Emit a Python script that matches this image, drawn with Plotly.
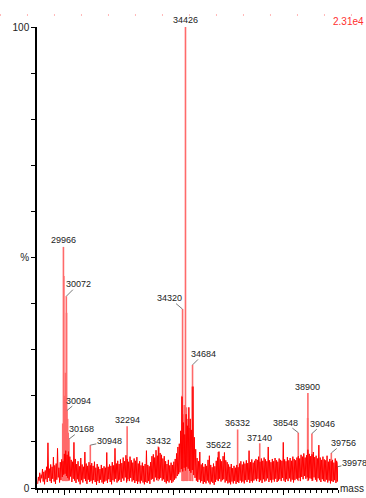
import plotly.graph_objects as go

# Baseline noise of the deconvoluted spectrum, sampled every 50 Da from 29025 Da.
# Each sample has a trough (noise_lo) and a crest (noise_hi), in % of base peak.
noise_start = 29025
noise_step = 50
noise_hi = [
    2.4, 3.3, 2.9, 4.1, 3.5, 3.8, 4.6, 9.8, 4.2, 5.1,
    4.6, 6.7, 4.9, 5.3, 8.6, 4.4, 5.6, 6.2, 5.8, 7.4,
    8.1, 7.2, 7.9, 6.8, 6.1, 5.7, 9.9, 6.3, 5.2, 5.8,
    4.7, 6.5, 5.1, 4.6, 7.8, 5.3, 4.8, 5.6, 4.9, 5.4,
    4.8, 5.7, 4.4, 5.2, 4.6, 4.1, 5.0, 4.3, 4.7, 4.4,
    7.7, 4.6, 5.1, 4.8, 5.6, 4.9, 8.6, 5.3, 5.9, 5.2,
    6.2, 5.4, 6.6, 5.8, 7.1, 6.3, 5.7, 6.8, 6.0, 5.5,
    6.4, 5.9, 6.7, 5.3, 5.8, 4.9, 5.5, 4.8, 5.2, 8.1,
    5.0, 4.7, 5.6, 6.9, 7.3, 6.6, 8.2, 7.0, 8.8, 7.6,
    7.2, 6.4, 6.9, 5.8, 5.2, 6.1, 4.9, 5.5, 5.0, 5.7,
    6.3, 7.5, 8.9, 9.6, 12.4, 19.8, 14.2, 11.6, 16.0, 13.5,
    17.5, 15.0, 12.6, 22.0, 11.0, 8.4, 6.5, 5.8, 7.8, 5.1,
    5.4, 4.6, 5.2, 4.8, 6.1, 7.0, 5.0, 4.5, 5.3, 4.7,
    5.9, 6.6, 7.9, 6.2, 5.8, 6.9, 7.7, 6.0, 5.6, 5.1,
    4.6, 5.2, 4.3, 4.8, 4.4, 5.0, 4.5, 5.3, 5.8, 5.1,
    5.7, 5.3, 6.0, 5.4, 8.1, 5.6, 6.2, 5.5, 5.9, 6.3,
    6.1, 6.8, 5.7, 6.4, 5.9, 6.6, 6.2, 5.8, 8.9, 6.0,
    5.6, 6.3, 5.8, 6.5, 6.0, 5.7, 6.4, 6.1, 5.9, 9.9,
    6.2, 5.8, 6.7, 6.0, 6.5, 5.9, 6.8, 6.3, 6.0, 6.6,
    6.9, 6.4, 7.2, 6.8, 7.5, 6.6, 7.1, 8.3, 7.4, 6.9,
    7.3, 7.8, 6.7, 7.0, 6.4, 9.3, 6.6, 6.1, 6.8, 6.2,
    6.0, 7.0, 5.7, 6.3, 5.8, 6.1, 5.5, 6.4, 5.9, 5.6,
]
noise_lo = [
    0.9, 1.6, 1.2, 2.1, 1.4, 0.8, 1.9, 1.3, 2.2, 1.5,
    1.1, 2.0, 1.4, 0.9, 1.8, 2.3, 1.2, 1.7, 2.4, 2.9,
    3.1, 2.6, 2.2, 1.8, 2.5, 1.3, 2.0, 1.6, 1.1, 1.9,
    1.4, 0.8, 1.7, 1.2, 2.0, 1.5, 0.9, 1.8, 1.3, 1.6,
    1.0, 1.7, 1.3, 0.7, 1.5, 1.1, 1.8, 1.2, 0.9, 1.4,
    1.6, 1.1, 1.9, 1.3, 0.8, 1.7, 1.4, 2.0, 1.2, 1.5,
    1.8, 1.3, 2.1, 1.6, 2.3, 1.2, 1.9, 1.5, 2.2, 1.4,
    1.7, 1.1, 1.5, 0.9, 1.4, 1.0, 1.6, 1.2, 0.8, 1.3,
    1.1, 1.5, 0.9, 1.8, 2.0, 1.4, 2.3, 1.7, 2.1, 1.9,
    2.2, 1.6, 1.9, 1.3, 1.0, 1.5, 1.2, 1.7, 1.1, 1.4,
    1.8, 2.1, 2.6, 3.0, 3.4, 4.1, 3.6, 4.4, 3.8, 4.6,
    4.2, 3.7, 3.3, 3.9, 2.8, 2.2, 1.6, 1.3, 1.8, 1.2,
    1.5, 0.9, 1.3, 1.0, 1.6, 1.2, 0.8, 1.4, 1.1, 0.7,
    1.3, 1.8, 1.5, 2.0, 1.4, 1.7, 1.9, 1.2, 1.6, 1.0,
    1.2, 0.8, 1.4, 1.0, 1.5, 0.9, 1.3, 1.1, 1.6, 1.2,
    1.4, 1.0, 1.7, 1.3, 1.8, 1.1, 1.5, 1.2, 1.6, 1.9,
    1.5, 2.0, 1.3, 1.7, 1.1, 1.9, 1.4, 1.6, 2.1, 1.3,
    1.7, 1.2, 1.8, 1.4, 2.0, 1.3, 1.6, 1.9, 1.5, 2.2,
    1.6, 1.3, 1.9, 1.5, 2.1, 1.4, 1.8, 1.2, 1.7, 2.0,
    1.8, 2.2, 1.5, 2.4, 1.9, 2.6, 2.0, 2.3, 1.7, 2.1,
    2.0, 1.6, 2.3, 1.8, 1.4, 2.1, 1.7, 1.3, 1.9, 1.5,
    1.4, 1.8, 1.2, 1.6, 1.0, 1.5, 1.3, 1.7, 1.1, 1.4,
]

# Labelled peaks: mass (Da), intensity (%)
peak_mass = [29966, 30072, 30094, 30168, 30948, 32294, 33432, 34320, 34426,
             34684, 35622, 36332, 37140, 38548, 38900, 39046, 39756, 39978]
peak_pct = [52.3, 41.6, 16.8, 10.6, 9.3, 13.4, 9.0, 38.8, 100.0,
            26.7, 7.8, 12.7, 9.7, 12.0, 20.6, 11.8, 7.6, 4.6]
# label offset from the peak top (px) and whether a leader line is drawn
label_dx = [0, 12, 12, 13, 19, 0, 0, -13, 0, 11, 0, 0, 0, -13, 0, 11, 12, 17]
label_dy = [-7, -12, -10, -10, -4, -6, -6, -11, -7, -11, -7, -6, -5, -10, -6, -10, -10, -4]
label_leader = [False, True, True, True, True, False, False, True, False,
                True, False, False, False, True, False, True, True, True]

# Unlabelled sticks inside the main clusters
extra_mass = [29940, 29980, 30010, 30040, 30080, 30120, 30140,
              34300, 34350, 34380, 34460, 34500, 34560, 34610, 34672, 38890]
extra_pct = [14.0, 46.0, 20.0, 25.0, 38.0, 15.0, 12.0,
             20.0, 16.0, 18.0, 17.5, 15.0, 13.0, 12.6, 22.0, 15.2]

x_tick_vals = [30000, 32000, 34000, 36000, 38000]
x_tick_text = ["30000", "32000", "34000", "36000", "38000"]
y_tick_vals = [0, 10, 20, 30, 40, 50, 60, 70, 80, 90, 100]
y_tick_text = ["0", "", "", "", "", "%", "", "", "", "", "100"]

RED = "#ff0000"
STICK = "#ff6a6a"
TEXT = "#222222"
FONT = "Liberation Sans, Arial, sans-serif"

# noise trace: trough then crest for every sample
nx, ny = [], []
for i, (lo, hi) in enumerate(zip(noise_lo, noise_hi)):
    m = noise_start + i * noise_step
    nx += [m, m + noise_step / 2]
    ny += [lo, hi]

# sticks rise out of the noise floor
sx, sy = [], []
for m, p in zip(extra_mass + peak_mass, extra_pct + peak_pct):
    sx += [m, m, None]
    sy += [1.5, p, None]

fig = go.Figure()
fig.add_trace(go.Scatter(x=sx, y=sy, mode="lines",
                         line=dict(color=STICK, width=1.6), hoverinfo="skip"))
fig.add_trace(go.Scatter(x=nx, y=ny, mode="lines",
                         line=dict(color=RED, width=1), hoverinfo="skip"))

label_font = dict(family=FONT, size=9, color=TEXT)
for m, p, dx, dy, lead in zip(peak_mass, peak_pct, label_dx, label_dy, label_leader):
    if lead:
        fig.add_annotation(
            x=m, y=p, ax=dx, ay=dy, text=str(m),
            showarrow=True, arrowhead=0, arrowwidth=0.8, arrowcolor="#555555",
            font=label_font, borderpad=0,
        )
    else:
        fig.add_annotation(
            x=m, y=p, xshift=dx, yshift=-dy, text=str(m),
            showarrow=False, xanchor="center", yanchor="middle",
            font=label_font, borderpad=0,
        )

fig.add_annotation(x=1.093, y=1.011, xref="paper", yref="paper", text="2.31e4",
                   showarrow=False, xanchor="right", yanchor="middle",
                   font=dict(family=FONT, size=10, color="#ff3030"))
fig.add_annotation(x=1.093, y=0.0, xref="paper", yref="paper", text="mass",
                   showarrow=False, xanchor="right", yanchor="middle",
                   font=dict(family=FONT, size=10, color=TEXT))

# faint dotted trace edge along the top of the panel
fig.add_shape(type="line", xref="paper", yref="paper",
              x0=-0.123, x1=1.093, y0=1.026, y1=1.026,
              line=dict(color="#ff7070", width=1, dash="1px,26px"))

fig.update_layout(
    width=366, height=498,
    margin=dict(l=37, r=28, t=27, b=10),
    plot_bgcolor="white", paper_bgcolor="white",
    showlegend=False,
    font=dict(family=FONT, size=10, color=TEXT),
)
fig.update_xaxes(
    range=[29000, 40000], showgrid=False, zeroline=False, automargin=False,
    showline=True, linecolor="black", linewidth=1.5,
    ticks="outside", ticklen=5, tickcolor="black", tickwidth=1,
    tickvals=x_tick_vals, ticktext=x_tick_text, tickfont=dict(size=10, color=TEXT),
    minor=dict(dtick=200, ticks="outside", ticklen=3, tickcolor="black", tickwidth=1),
)
fig.update_yaxes(
    range=[0, 100], showgrid=False, zeroline=False, automargin=False,
    showline=True, linecolor="black", linewidth=1.5,
    ticks="outside", ticklen=4, tickcolor="black", tickwidth=1,
    tickvals=y_tick_vals, ticktext=y_tick_text,
    tickfont=dict(size=10, color=TEXT),
)

fig.write_html("out.html")
